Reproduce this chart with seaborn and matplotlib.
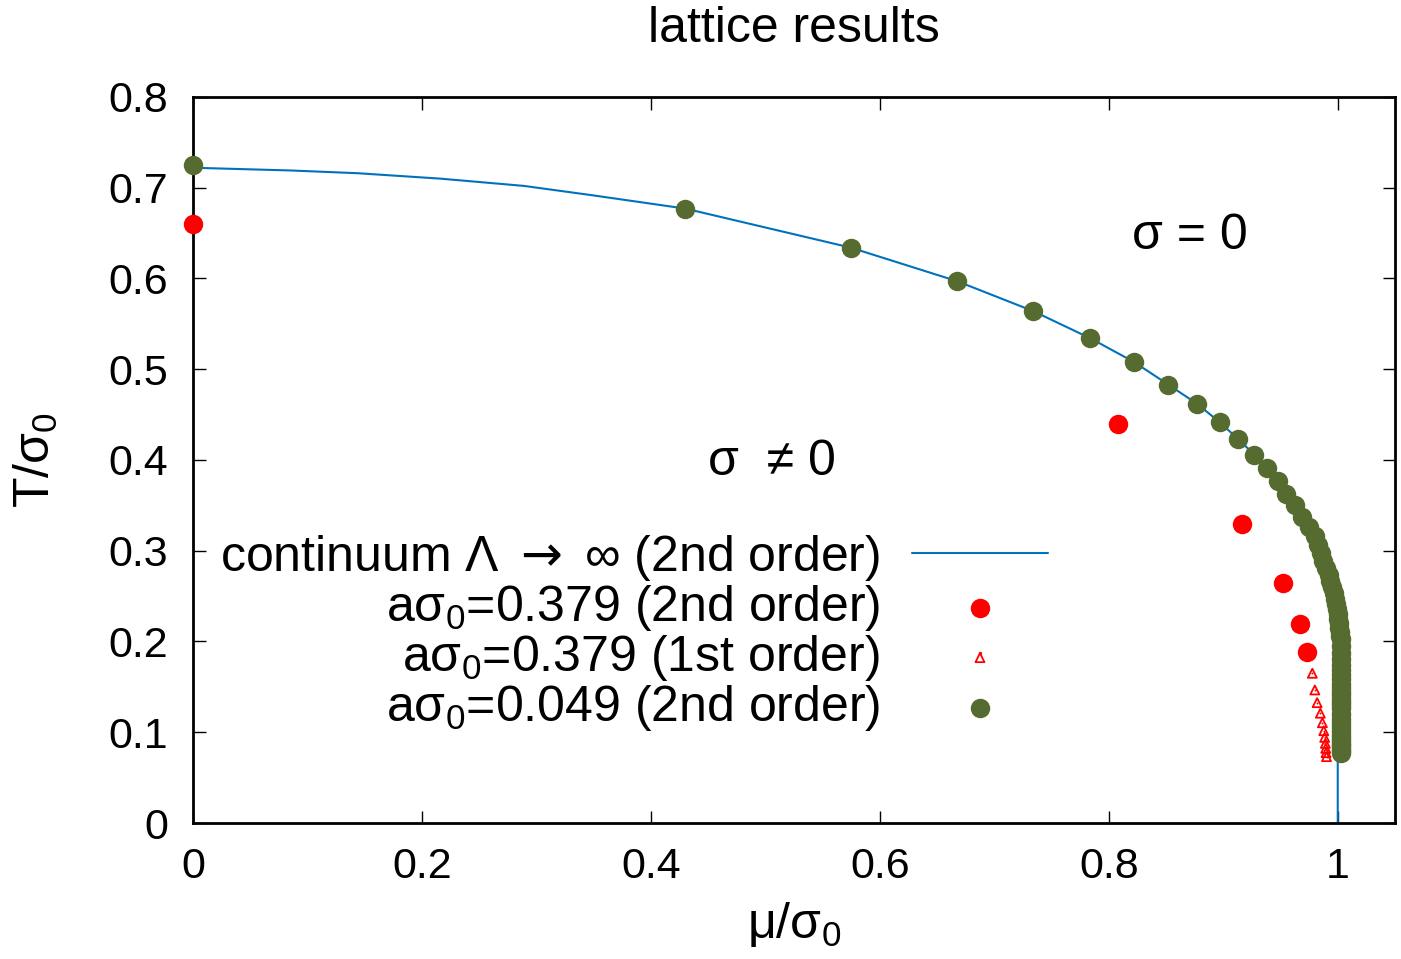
import numpy as np
import pandas as pd
import matplotlib
matplotlib.use('Agg')
import matplotlib.pyplot as plt
from matplotlib.lines import Line2D
import seaborn as sns

# continuum phase boundary
curve_mu = [0.000, 0.085, 0.1435, 0.216, 0.289, 0.347, 0.430, 0.5745, 0.6675, 0.734, 0.784,
            0.822, 0.852, 0.877, 0.897, 0.913, 0.927, 0.938, 0.9475, 0.955, 0.9625, 0.969,
            0.9795, 0.9895, 0.9965, 1.000, 1.000]
curve_T = [0.722, 0.719, 0.716, 0.710, 0.702, 0.692, 0.677, 0.634, 0.597, 0.564, 0.534,
           0.508, 0.483, 0.462, 0.4415, 0.423, 0.406, 0.391, 0.377, 0.363, 0.350, 0.3375,
           0.316, 0.281, 0.250, 0.200, 0.000]

# a sigma0 = 0.379, second order
red2_mu = [0.000, 0.808, 0.9163, 0.9525, 0.9668, 0.9735]
red2_T = [0.660, 0.440, 0.330, 0.264, 0.2196, 0.188]

# a sigma0 = 0.379, first order
red1_mu = [0.9778, 0.980, 0.982, 0.9848, 0.9866, 0.9878, 0.9886, 0.9892, 0.9895, 0.9898, 0.9902]
red1_T = [0.165, 0.1466, 0.1326, 0.121, 0.1105, 0.1017, 0.0944, 0.0878, 0.0823, 0.0775, 0.0731]

# a sigma0 = 0.049, second order
green_mu = [0.000, 0.430, 0.5745, 0.6675, 0.734, 0.784, 0.822, 0.852, 0.877, 0.897, 0.913,
            0.927, 0.938, 0.9475, 0.955, 0.9625, 0.969,
            0.975, 0.980, 0.983, 0.985, 0.9875, 0.990, 0.992, 0.9935, 0.995, 0.9965,
            0.998, 0.9985, 0.999, 1.000, 1.0005, 1.001, 1.0015, 1.002, 1.002, 1.0025,
            1.003, 1.003, 1.003, 1.003, 1.003, 1.003, 1.003, 1.003, 1.003, 1.003,
            1.003, 1.003, 1.003, 1.003, 1.003, 1.003, 1.003, 1.003, 1.003, 1.003,
            1.003, 1.003, 1.003, 1.003, 1.003, 1.003, 1.003, 1.003]
green_T = [0.725, 0.677, 0.634, 0.597, 0.564, 0.534, 0.508, 0.483, 0.462, 0.4415, 0.423,
           0.406, 0.391, 0.377, 0.363, 0.350, 0.3375,
           0.3265, 0.3163, 0.3067, 0.2977, 0.2892, 0.2812, 0.2736, 0.2664, 0.2596, 0.2531,
           0.2469, 0.2410, 0.2354, 0.2301, 0.2249, 0.2201, 0.2154, 0.2109, 0.2066, 0.2025,
           0.1947, 0.1875, 0.1808, 0.1745, 0.1687, 0.1633, 0.1582, 0.1534, 0.1489, 0.1446,
           0.1406, 0.1368, 0.1332, 0.1298, 0.1265, 0.1205, 0.1150, 0.1100, 0.1054, 0.1012,
           0.0973, 0.0937, 0.0904, 0.0873, 0.0844, 0.0816, 0.0791, 0.0767]

labels = [r'continuum Λ $\mathsf{\rightarrow}$ ∞ (2nd order)',
          'aσ$_0$=0.379 (2nd order)',
          'aσ$_0$=0.379 (1st order)',
          'aσ$_0$=0.049 (2nd order)']

BLUE = '#0072bd'
RED = '#ff0000'
GREEN = '#556b2f'

sns.set_theme(style='ticks')
plt.rcParams['font.family'] = ['Liberation Sans', 'DejaVu Sans']
plt.rcParams['mathtext.fontset'] = 'custom'
plt.rcParams['mathtext.rm'] = 'Liberation Sans'
plt.rcParams['mathtext.it'] = 'Liberation Sans:italic'
plt.rcParams['mathtext.sf'] = 'DejaVu Sans'
plt.rcParams['text.color'] = 'black'
plt.rcParams['axes.labelcolor'] = 'black'

fig = plt.figure(figsize=(14.01, 9.59), dpi=100)
ax = fig.add_axes([0.1378, 0.1418, 0.8579, 0.7571])

curve = pd.DataFrame({'mu': curve_mu, 'T': curve_T})
sns.lineplot(data=curve, x='mu', y='T', sort=False, estimator=None, color=BLUE,
             linewidth=1.5, label=labels[0], ax=ax, zorder=2)

sns.scatterplot(x=red2_mu, y=red2_T, color=RED, s=196, linewidth=0, label=labels[1],
                ax=ax, zorder=3, clip_on=False)
sns.scatterplot(x=red1_mu, y=red1_T, marker='^', s=42, facecolor='none', edgecolor=RED,
                linewidth=1.3, label=labels[2], ax=ax, zorder=3, clip_on=False)
sns.scatterplot(x=red1_mu, y=red1_T, marker='o', s=2, color=RED, linewidth=0,
                ax=ax, zorder=3, clip_on=False)
sns.scatterplot(x=green_mu, y=green_T, color=GREEN, s=196, linewidth=0, label=labels[3],
                ax=ax, zorder=4, clip_on=False)

ax.set_xlim(0, 1.05)
ax.set_ylim(0, 0.8)
ax.set_xticks([0, 0.2, 0.4, 0.6, 0.8, 1.0])
ax.set_yticks(np.arange(0, 0.81, 0.1))
ax.xaxis.set_major_formatter(matplotlib.ticker.FormatStrFormatter('%g'))
ax.yaxis.set_major_formatter(matplotlib.ticker.FuncFormatter(lambda v, p: '%g' % round(v, 1)))
ax.tick_params(direction='in', length=9, width=1, top=True, right=True,
               labelsize=31, colors='black')
ax.tick_params(axis='x', pad=17)
ax.tick_params(axis='y', pad=18)
for sp in ax.spines.values():
    sp.set_linewidth(2.0)
    sp.set_color('black')
    sp.set_zorder(2.5)

ax.set_xlabel('μ/σ$_0$', fontsize=36)
ax.set_ylabel('T/σ$_0$', fontsize=36)
ax.xaxis.set_label_coords(0.5, -0.14)
ax.xaxis.label.set_verticalalignment('center')
ax.yaxis.set_label_coords(-0.131, 0.5)
ax.yaxis.label.set_verticalalignment('center')

fig.text(794 / 1401, 1 - 29 / 959, 'lattice results', fontsize=36, ha='center', va='center')
ax.text(0.871, 0.647, 'σ = 0', fontsize=36, ha='center', va='center')
ax.text(0.506, 0.398, 'σ  ≠ 0', fontsize=36, ha='center', va='center')

handles, labs = ax.get_legend_handles_labels()
dot = Line2D([], [], marker='o', markersize=1.4, color=RED, linestyle='none')
handles[2] = (handles[2], dot)
ax.legend(handles, labs, loc='center right', bbox_to_anchor=(0.7113, 0.262),
          frameon=False, markerfirst=False, fontsize=36, handlelength=2.72,
          handletextpad=0.64, labelspacing=0.0, borderpad=0, borderaxespad=0)

fig.savefig('out.png', dpi=100)
